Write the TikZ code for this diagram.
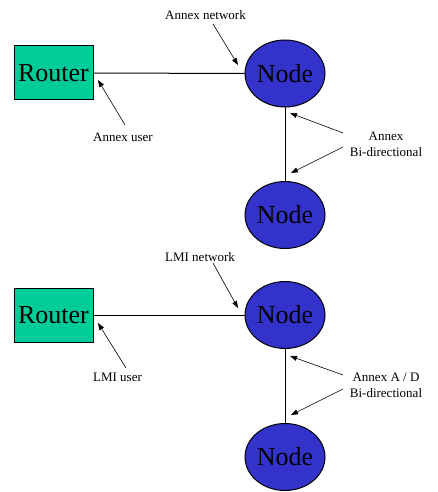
\documentclass[tikz,border=0pt]{standalone}
\usepackage{fontspec}
\setmainfont{Liberation Serif}
\usetikzlibrary{arrows.meta,shapes.geometric}
\definecolor{routerfill}{HTML}{00CC99}
\definecolor{nodefill}{HTML}{3333CC}
\begin{document}
\begin{tikzpicture}[x=1pt,y=-1pt,
  router/.style={draw=black,line width=1pt,fill=routerfill,minimum width=79pt,minimum height=54pt,inner sep=0pt,font=\fontsize{26}{30}\selectfont},
  nodeell/.style={ellipse,draw=black,line width=1pt,fill=nodefill,minimum width=80pt,minimum height=67pt,inner sep=0pt,font=\fontsize{26}{30}\selectfont},
  lbl/.style={inner sep=0pt,align=center,font=\fontsize{13}{16}\selectfont},
  link/.style={line width=1pt},
  pointer/.style={line width=0.6pt,-{Triangle[length=7pt,width=5pt]}}]
\useasboundingbox (0,0) rectangle (438,492);
% top part
\node[router] (r1) at (53.5,73) {Router};
\node[nodeell] (n1) at (285,73.5) {Node};
\node[nodeell] (n2) at (285,215) {Node};
\draw[link] (r1.east) -- (n1.west);
\draw[link] (n1.south) -- (n2.north);
\node[lbl] (l1) at (205.5,15) {Annex network};
\node[lbl] (l2) at (123,137) {Annex user};
\node[lbl] (l3) at (386,144.5) {Annex\\Bi-directional};
\coordinate (a1s) at (213,24); \coordinate (a1e) at (238,65);
\coordinate (a2s) at (125,125); \coordinate (a2e) at (98,80);
\coordinate (a3s) at (343,133); \coordinate (a3e) at (290,113);
\coordinate (a4s) at (343,147); \coordinate (a4e) at (291,173);
\draw[pointer] (a1s) -- (a1e);
\draw[pointer] (a2s) -- (a2e);
\draw[pointer] (a3s) -- (a3e);
\draw[pointer] (a4s) -- (a4e);
% bottom part
\node[router] (r2) at (53.5,315) {Router};
\node[nodeell] (n3) at (285,315) {Node};
\node[nodeell] (n4) at (285,457) {Node};
\draw[link] (r2.east) -- (n3.west);
\draw[link] (n3.south) -- (n4.north);
\node[lbl] (l4) at (200,257) {LMI network};
\node[lbl] (l5) at (117.5,377) {LMI user};
\node[lbl] (l6) at (386,385) {Annex A / D\\Bi-directional};
\coordinate (b1s) at (213,263); \coordinate (b1e) at (238,308);
\coordinate (b2s) at (126,368); \coordinate (b2e) at (98,323);
\coordinate (b3s) at (343,375); \coordinate (b3e) at (290,356);
\coordinate (b4s) at (343,389); \coordinate (b4e) at (291,415);
\draw[pointer] (b1s) -- (b1e);
\draw[pointer] (b2s) -- (b2e);
\draw[pointer] (b3s) -- (b3e);
\draw[pointer] (b4s) -- (b4e);
\end{tikzpicture}
\end{document}
